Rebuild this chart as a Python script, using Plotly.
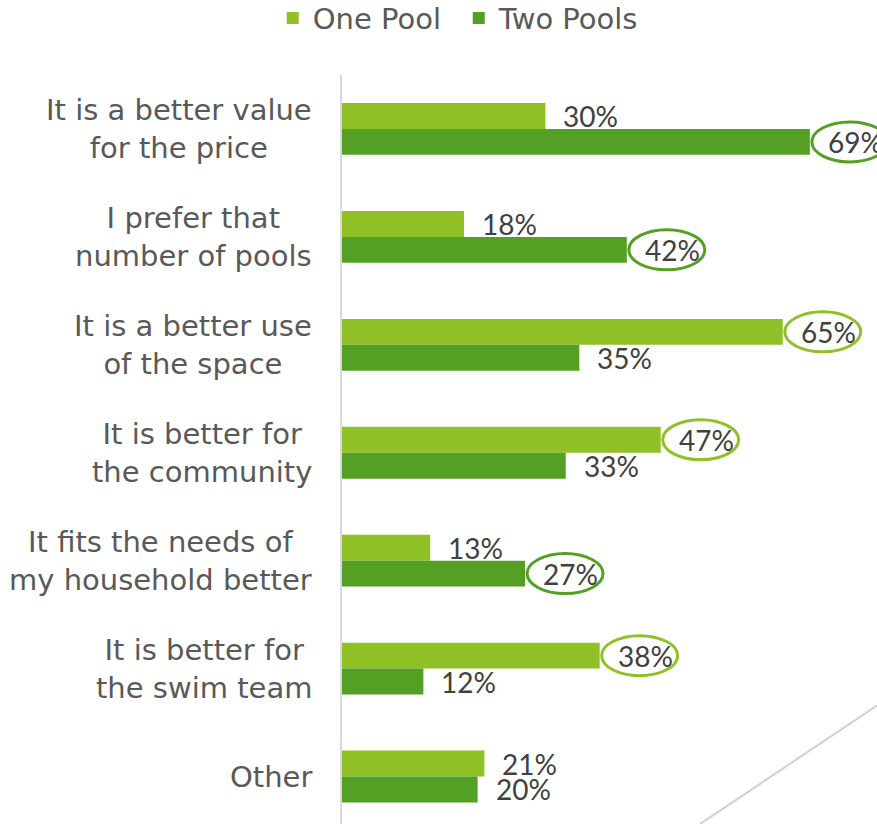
import plotly.graph_objects as go

categories = [
    "It is a better value<br>for the price",
    "I prefer that<br>number of pools",
    "It is a better use<br>of the space",
    "It is better for<br>the community",
    "It fits the needs of<br>my household better",
    "It is better for<br>the swim team",
    "Other",
]
one_pool = [30, 18, 65, 47, 13, 38, 21]
two_pools = [69, 42, 35, 33, 27, 12, 20]
# which series is highlighted (circled) for each category: 0 = one pool, 1 = two pools, None = none
highlight = [1, 1, 0, 0, 1, 0, None]

series_names = ["One Pool", "Two Pools"]
colors = ["#8FC126", "#53A024"]

pos = list(range(len(categories)))
bar_half = 0.12

fig = go.Figure()
for name, vals, col in zip(series_names, [one_pool, two_pools], colors):
    fig.add_trace(go.Bar(
        y=pos, x=vals, orientation="h", name=name,
        marker=dict(color=col, line=dict(width=0)),
        hoverinfo="skip",
    ))

annotations = []
shapes = []
for i, cat in enumerate(categories):
    annotations.append(dict(
        x=0, y=i, xref="paper", yref="y", text=cat, showarrow=False,
        xanchor="right", yanchor="middle", align="center", xshift=-28,
        font=dict(family="DejaVu Sans", size=29, color="#595959"),
    ))
    for s, vals in enumerate([one_pool, two_pools]):
        yc = i + (-bar_half if s == 0 else bar_half)
        annotations.append(dict(
            x=vals[i], y=yc, xref="x", yref="y", text=f"{vals[i]}%",
            showarrow=False, xanchor="left", yanchor="middle", xshift=16,
            font=dict(family="Lato", size=28, color="#404040"),
        ))
        if highlight[i] == s:
            shapes.append(dict(
                type="circle", xref="x", yref="y",
                xsizemode="pixel", ysizemode="pixel",
                xanchor=vals[i], yanchor=yc,
                x0=2, x1=78, y0=-20, y1=20,
                line=dict(color=colors[s], width=3),
                fillcolor="rgba(0,0,0,0)",
            ))

# decorative diagonal line at bottom right
shapes.append(dict(type="line", xref="paper", yref="paper",
                   x0=0.669, y0=0.0, x1=1.0, y1=0.158,
                   line=dict(color="#D0D0D0", width=2)))

fig.update_layout(
    width=877, height=824,
    margin=dict(l=342, r=0, t=75, b=0, autoexpand=False),
    paper_bgcolor="white", plot_bgcolor="white",
    barmode="group", bargap=0.52, bargroupgap=0,
    xaxis=dict(range=[0, 78.9], visible=False, showgrid=False, zeroline=False),
    yaxis=dict(range=[6.44, -0.5], showticklabels=False, showgrid=False,
               zeroline=False, showline=True, linecolor="#D9D9D9", linewidth=2,
               ticks=""),
    showlegend=True,
    legend=dict(orientation="h", xref="container", yref="paper",
                x=0.311, xanchor="left", y=1.076, yanchor="middle",
                font=dict(family="DejaVu Sans", size=29, color="#595959"),
                itemwidth=30, entrywidth=141, tracegroupgap=0,
                bgcolor="rgba(0,0,0,0)"),
    annotations=annotations,
    shapes=shapes,
)

fig.write_html(
    "out.html",
    config={"displayModeBar": False},
    post_script="document.body.style.margin='0';document.body.style.overflow='hidden';",
)
